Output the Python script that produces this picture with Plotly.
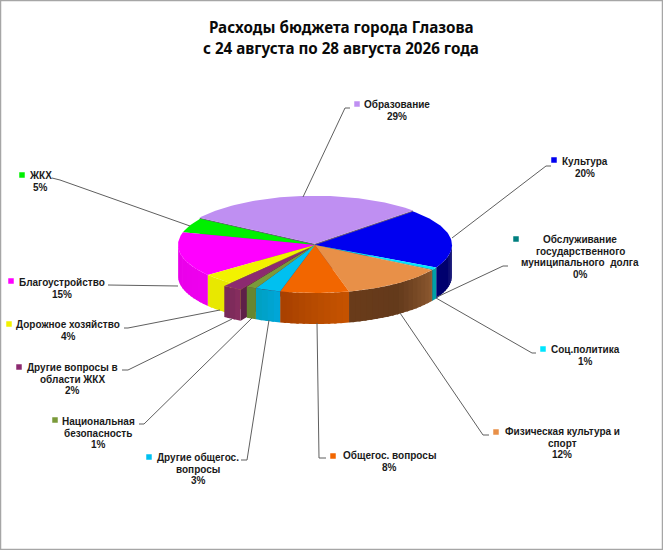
import math
import plotly.graph_objects as go

# ---- data ----
categories = ["Образование", "Культура", "Соц.политика", "Обслуживание долга",
              "Физическая культура и спорт", "Общегос. вопросы", "Другие общегос. вопросы",
              "Национальная безопасность", "Другие вопросы в области ЖКХ",
              "Дорожное хозяйство", "Благоустройство", "ЖКХ"]
values = [28.6, 20.0, 0.8, 0.2, 12.3, 8.1, 3.0, 1.2, 2.3, 3.7, 15.0, 4.9]
label_lines = [["Образование", "29%"], ["Культура", "20%"], ["Соц.политика", "1%"],
               ["Обслуживание", "государственного", "муниципального  долга", "0%"],
               ["Физическая культура и", "спорт", "12%"], ["Общегос. вопросы", "8%"],
               ["Другие общегос.", "вопросы", "3%"], ["Национальная", "безопасность", "1%"],
               ["Другие вопросы в", "области ЖКХ", "2%"], ["Дорожное хозяйство", "4%"],
               ["Благоустройство", "15%"], ["ЖКХ", "5%"]]
top_colors = ["#bf8ff2", "#0000f0", "#00e6ff", "#007f7f", "#e89048", "#f26600",
              "#00c0f0", "#7a9a3a", "#8c2a70", "#f2f200", "#ff00ff", "#00f000"]
wall_colors = [["#7a5aa0", "#7a5aa0"], ["#000070", "#000060"], ["#00a0a8", "#00a0a8"],
               ["#007070", "#007070"], ["#6a3c1a", "#643a1c", "#8e5a30"],
               ["#a84000", "#b84c00", "#c85400"], ["#00a0c0", "#00a8dc"],
               ["#60802c", "#6c8c34"], ["#762a58", "#8a2e60"], ["#e8e800", "#e8e800"],
               ["#e400e4", "#f000f0"], ["#00c000", "#00c000"]]
cut_colors = ["#6a5a80", "#000060", "#007f7f", "#007070", "#6a3c1a", "#a84000",
              "#0090b0", "#506c24", "#5e2048", "#a8a800", "#b000b0", "#00a000"]
explode = [0.025, 0, 0, 0, 0, 0, 0, 0, 0.08, 0, 0, 0]

label_pos = [(397, 104.5), (585, 161.5), (585, 349.5), (580, 239.5), (562, 431.5), (389, 455.5),
             (198, 457.5), (98, 421.5), (72, 367.5), (68, 324.5), (62, 282.5), (40, 175.5)]
key_pos = [(357, 104), (554, 160), (543, 349), (516, 239), (496, 432), (333, 456),
           (149, 457), (55, 420), (19, 367), (9, 324), (11, 281), (22, 175)]
leaders = [[(303, 197), (345, 108), (350, 108)], [(452, 238), (546, 166), (551, 166)],
           [(436, 298), (532, 353), (536, 353)], [(437, 297), (503, 266), (508, 266)],
           [(400, 313), (483, 435), (489, 435)], [(317, 323), (319, 458), (326, 458)],
           [(269, 320), (247, 460), (241, 460)], [(252, 318), (144, 424), (139, 424)],
           [(232, 319), (128, 370), (122, 370)], [(220, 310), (128, 328), (124, 328)],
           [(178, 286), (108, 285)], [(190, 226), (60, 180), (52, 178)]]
title_lines = ["Расходы бюджета города Глазова", "с 24 августа по 28 августа 2026 года"]

# ---- projection of the pie ----
CX, CY, RX, RY, DEPTH, START = 315, 245, 137, 48, 31, 147.0
total = sum(values)
spans, a = [], START
for v in values:
    b = a - v / total * 360
    spans.append((a, b))
    a = b


def off(i):
    mid = math.radians(sum(spans[i]) / 2)
    return (RX * explode[i] * math.cos(mid), -RY * explode[i] * math.sin(mid))


def pt(i, t, z=0):
    dx, dy = off(i)
    r = math.radians(t)
    return (CX + dx + RX * math.cos(r), CY + dy - RY * math.sin(r) + z)


def centre(i, z=0):
    dx, dy = off(i)
    return (CX + dx, CY + dy + z)


def mix(stops, f):
    hexs = [[int(c[j:j + 2], 16) for j in (1, 3, 5)] for c in stops]
    p = f * (len(hexs) - 1)
    k = min(int(p), len(hexs) - 2)
    u = p - k
    return "rgb(%d,%d,%d)" % tuple(hexs[k][j] * (1 - u) + hexs[k + 1][j] * u for j in range(3))


fig = go.Figure()


def poly(points, color):
    fig.add_trace(go.Scatter(x=[p[0] for p in points], y=[p[1] for p in points], mode="lines",
                             fill="toself", fillcolor=color, line=dict(width=0),
                             hoverinfo="skip", showlegend=False))


def visible(a, b):
    """clockwise arc a->b, parts that face the viewer (sin t <= 0)."""
    out = []
    for k in (-1, 0, 1):
        lo, hi = max(b, -180 + 360 * k), min(a, 360 * k)
        if hi > lo:
            out.append((hi, lo))
    return out


def wall(i):
    a, b = spans[i]
    for hi, lo in visible(a, b):
        n = max(1, int((hi - lo) / 2.5))
        for s in range(n):
            t0 = hi - (hi - lo) * s / n
            t1 = hi - (hi - lo) * min(s + 1.4, n) / n
            f = min(max(((a - t0) + (a - t1)) / 2 / (a - b), 0), 1)
            # colours are listed left-to-right on the picture
            poly([pt(i, t0), pt(i, t1), pt(i, t1, DEPTH), pt(i, t0, DEPTH)],
                 mix(wall_colors[i], 1 - f))


def cut(i, t):
    p = pt(i, t)
    q = pt(i, t, DEPTH)
    poly([centre(i), p, q, centre(i, DEPTH)], cut_colors[i])


def top(i):
    a, b = spans[i]
    n = max(2, int((a - b) / 1.5))
    poly([centre(i)] + [pt(i, a + (b - a) * s / n) for s in range(n + 1)], top_colors[i])


# cut faces seen through the gaps
cut(0, spans[0][0])
cut(0, spans[0][1])
cut(9, spans[9][0])
cut(8, spans[8][0])
poly([(CX, CY), centre(8), pt(8, spans[8][0]), pt(7, spans[7][1])], cut_colors[8])
poly([(CX, CY), centre(8), pt(8, spans[8][1]), pt(9, spans[9][0])], cut_colors[9])

# outer walls, back to front
for i in [10, 9, 8, 1, 2, 3, 4, 5, 6, 7]:
    wall(i)
# tops
for i in [11, 10, 9, 0, 1, 2, 3, 4, 5, 6, 7, 8]:
    top(i)

# leader lines
for seg in leaders:
    fig.add_trace(go.Scatter(x=[p[0] for p in seg], y=[p[1] for p in seg], mode="lines",
                             line=dict(color="#5f5f5f", width=1), hoverinfo="skip",
                             showlegend=False))

# legend keys
fig.add_trace(go.Scatter(x=[p[0] for p in key_pos], y=[p[1] for p in key_pos], mode="markers",
                         marker=dict(symbol="square", size=5.5, color=top_colors, line=dict(width=0)),
                         hoverinfo="skip", showlegend=False))

LABEL_FONT = dict(family="Liberation Sans", size=10, color="#1a1a1a")
STEP = 11.5
ann = []
for lines, (x, y) in zip(label_lines, label_pos):
    for j, line in enumerate(lines):
        ann.append(dict(x=x, y=y + j * STEP, xref="x", yref="y", text="<b>%s</b>" % line,
                        showarrow=False, xanchor="center", yanchor="middle", font=LABEL_FONT))
for j, line in enumerate(title_lines):
    ann.append(dict(x=341, y=27 + j * 21, xref="x", yref="y", text="<b>%s</b>" % line,
                    showarrow=False, xanchor="center", yanchor="middle",
                    font=dict(family="Noto Sans", size=15.2, color="#0a0a0a")))

fig.update_layout(
    width=663, height=550, margin=dict(l=0, r=0, t=0, b=0, pad=0), autosize=False,
    paper_bgcolor="white", plot_bgcolor="white", annotations=ann, showlegend=False,
    xaxis=dict(range=[0, 663], visible=False, fixedrange=True),
    yaxis=dict(range=[550, 0], visible=False, fixedrange=True),
    shapes=[dict(type="rect", xref="x", yref="y", x0=0.5, y0=0.5, x1=662.5, y1=549.5,
                 line=dict(color="#a6a6a6", width=1.5), fillcolor="rgba(0,0,0,0)")],
)
fig.write_html("out.html", config={"displayModeBar": False},
               post_script="document.body.style.margin='0';document.body.style.overflow='hidden';")
